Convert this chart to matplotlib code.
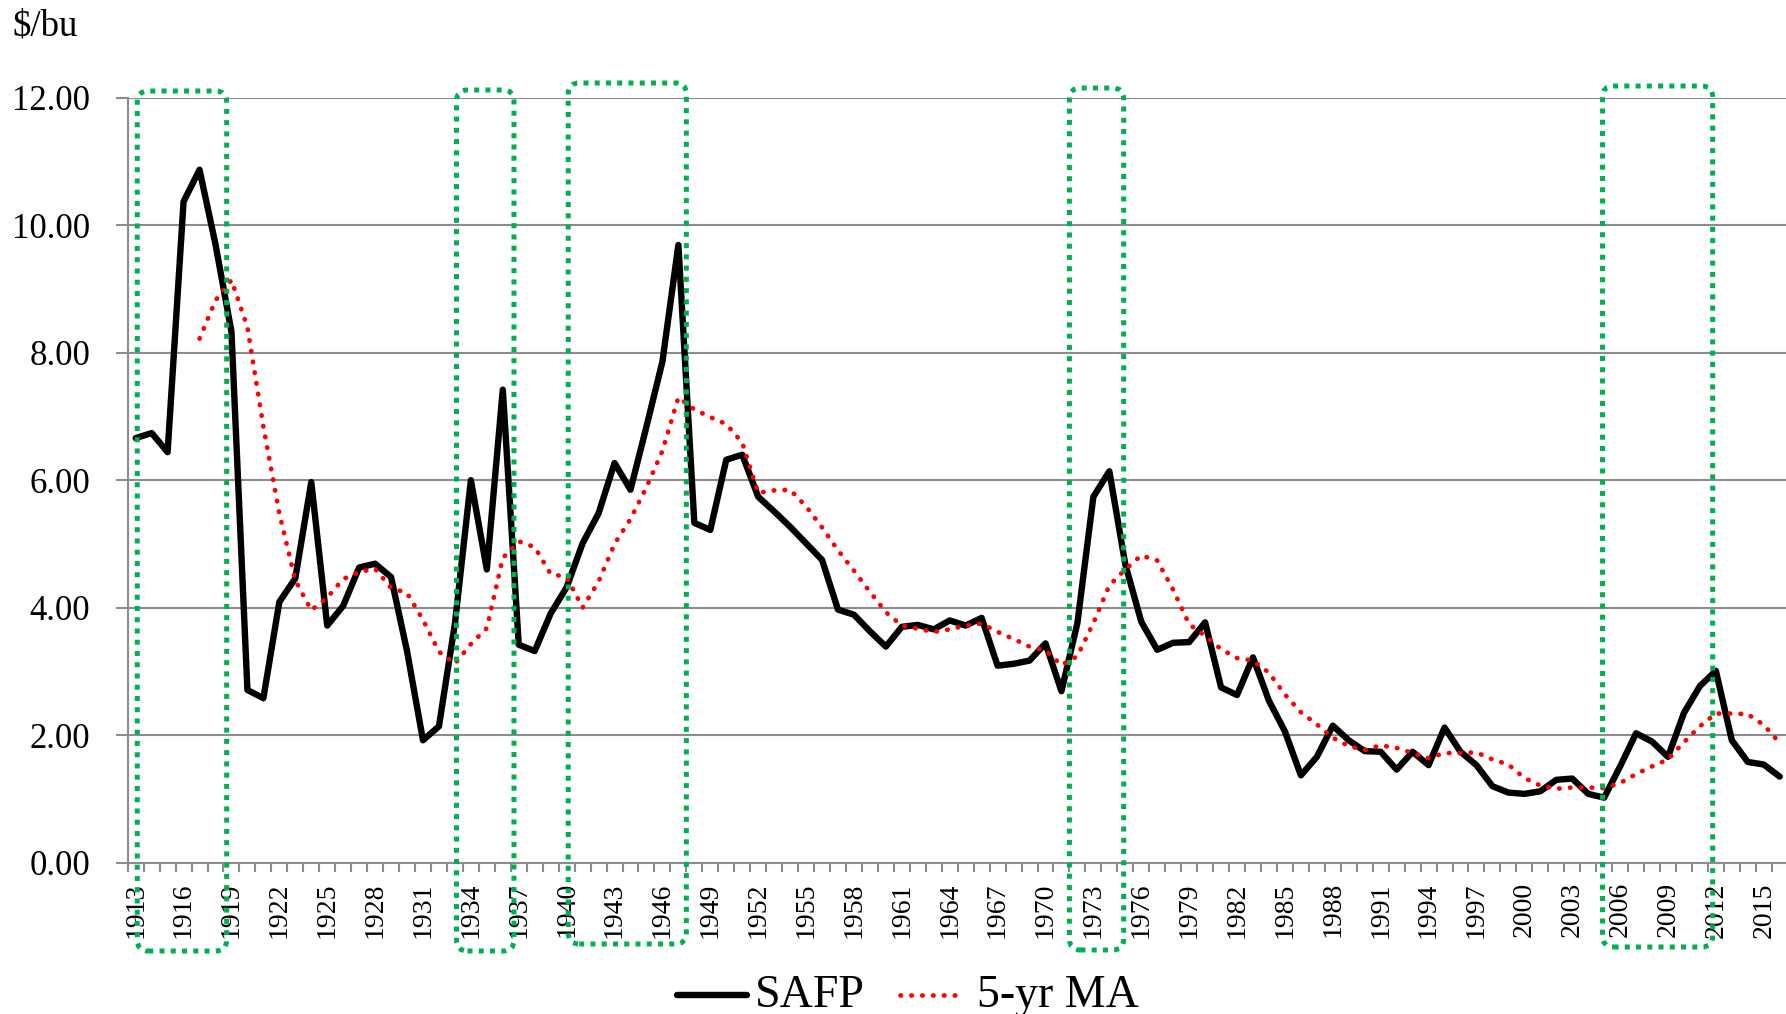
import numpy as np
import matplotlib
matplotlib.use("Agg")
import matplotlib.pyplot as plt
from matplotlib.patches import FancyBboxPatch
from matplotlib.lines import Line2D
from matplotlib.transforms import IdentityTransform

# ---------------- data ----------------
years = list(range(1913, 2017))
safp = [
    6.66, 6.74, 6.44, 10.37, 10.87, 9.70, 8.33, 2.71, 2.58, 4.09,   # 1913-1922
    4.46, 5.97, 3.72, 4.03, 4.63, 4.69, 4.48, 3.32, 1.92, 2.14,     # 1923-1932
    3.75, 6.00, 4.60, 7.42, 3.42, 3.32, 3.91, 4.32, 5.01, 5.48,     # 1933-1942
    6.27, 5.85, 6.84, 7.86, 9.69, 5.33, 5.22, 6.32, 6.40, 5.74,     # 1943-1952
    5.51, 5.27, 5.01, 4.75, 3.97, 3.89, 3.63, 3.39, 3.70, 3.73,     # 1953-1962
    3.66, 3.80, 3.72, 3.84, 3.09, 3.12, 3.17, 3.44, 2.69, 3.76,     # 1963-1972
    5.74, 6.14, 4.68, 3.78, 3.34, 3.45, 3.46, 3.77, 2.75, 2.63,     # 1973-1982
    3.22, 2.54, 2.06, 1.37, 1.66, 2.15, 1.92, 1.75, 1.74, 1.46,     # 1983-1992
    1.74, 1.53, 2.12, 1.74, 1.53, 1.20, 1.10, 1.08, 1.12, 1.30,     # 1993-2002
    1.32, 1.08, 1.02, 1.51, 2.03, 1.90, 1.66, 2.35, 2.77, 3.01,     # 2003-2012
    1.92, 1.58, 1.54, 1.35,                                         # 2013-2016
]
ma_years = list(range(1917, 2017))
ma5 = [
    8.22, 8.82, 9.14, 8.40, 6.84, 5.48, 4.43, 3.96, 4.16, 4.45,     # 1917-1926
    4.56, 4.61, 4.31, 4.23, 3.81, 3.31, 3.12, 3.43, 3.68, 4.78,     # 1927-1936
    5.04, 4.95, 4.53, 4.48, 4.00, 4.41, 5.00, 5.39, 5.89, 6.46,     # 1937-1946
    7.30, 7.11, 6.99, 6.88, 6.59, 5.80, 5.84, 5.85, 5.59, 5.26,     # 1947-1956
    4.90, 4.58, 4.25, 3.93, 3.72, 3.67, 3.62, 3.66, 3.72, 3.75,     # 1957-1966
    3.62, 3.51, 3.39, 3.33, 3.10, 3.24, 3.76, 4.35, 4.60, 4.82,     # 1967-1976
    4.74, 4.28, 3.74, 3.56, 3.35, 3.21, 3.17, 2.98, 2.64, 2.36,     # 1977-1986
    2.17, 1.96, 1.83, 1.77, 1.84, 1.80, 1.72, 1.64, 1.72, 1.72,     # 1987-1996
    1.73, 1.62, 1.54, 1.33, 1.21, 1.16, 1.18, 1.18, 1.17, 1.25,     # 1997-2006
    1.39, 1.51, 1.62, 1.89, 2.14, 2.34, 2.34, 2.33, 2.16, 1.88,     # 2007-2016
]
label_years = list(range(1913, 2016, 3))
y_ticks = [0, 2, 4, 6, 8, 10, 12]
series_names = ["SAFP", "5-yr MA"]
unit_label = "$/bu"
# highlighted periods (in years along the category axis)
highlight_periods = [(1913.1, 1918.7), (1933.1, 1936.7), (1940.1, 1947.5),
                     (1971.5, 1974.9), (2004.9, 2011.8)]

# ---------------- style / layout ----------------
W, H = 1786, 1014
GRAY = "#8c8c8c"
GREEN = "#00B050"
box_tops = [91, 90, 83, 88, 86]        # pixels from top
box_bottoms = [951, 951, 944, 950, 947]

plt.rcParams['font.family'] = ['Liberation Serif', 'DejaVu Serif']

fig = plt.figure(figsize=(W / 100, H / 100), dpi=100)
left_px, right_px, top_px, bot_px = 127.7, 1787.7, 97.7, 862.7
ax = fig.add_axes([left_px / W, (H - bot_px) / H,
                   (right_px - left_px) / W, (bot_px - top_px) / H])

x0 = years[0]
xs = [y - x0 for y in years]
xs_ma = [y - x0 for y in ma_years]

ax.plot(xs, safp, color="black", lw=4.6, solid_joinstyle="round",
        solid_capstyle="round", zorder=3)
ax.plot(xs_ma, ma5, color="#FF0000", lw=3.4, linestyle=(0, (0.1, 2.2)),
        dash_capstyle="round", zorder=4)

ax.set_xlim(-0.5, len(years) - 0.5)
ax.set_ylim(0, 12)

# y axis
ax.set_yticks(y_ticks)
ax.set_yticklabels([f"{v:.2f}" for v in y_ticks])
ax.tick_params(axis="y", length=9, width=1.5, color=GRAY, pad=18,
               labelsize=25, direction="out")
ax.grid(axis="y", color=GRAY, lw=1.5)
ax.set_axisbelow(True)

# x axis: tick marks between categories, labels every 3 years
ax.set_xticks(np.arange(-0.5, len(years), 1.0))
ax.set_xticklabels([])
ax.set_xticks([y - x0 for y in label_years], minor=True)
ax.set_xticklabels([str(y) for y in label_years], minor=True, rotation=90)
ax.tick_params(axis="x", which="major", length=6.5, width=1.5, color=GRAY,
               direction="out")
ax.tick_params(axis="x", which="minor", length=0, pad=14, labelsize=20)

for s in ["top", "right"]:
    ax.spines[s].set_visible(False)
for s in ["left", "bottom"]:
    ax.spines[s].set_color(GRAY)
    ax.spines[s].set_linewidth(1.5)

# highlight boxes (dotted, rounded)
for (ya, yb), t, b in zip(highlight_periods, box_tops, box_bottoms):
    pa = ax.transData.transform((ya - x0, 0))[0]
    pb = ax.transData.transform((yb - x0, 0))[0]
    patch = FancyBboxPatch((pa, H - b), pb - pa, b - t,
                           boxstyle="round,pad=0,rounding_size=11",
                           transform=IdentityTransform(), fill=False,
                           edgecolor=GREEN, lw=3.6,
                           linestyle=(0, (1, 1.25)), capstyle="butt",
                           zorder=10)
    fig.add_artist(patch)

# unit label
fig.text(12 / W, (H - 36) / H, unit_label, fontsize=26.5, va="baseline",
         ha="left")

# legend (manual, bottom centre)
ly = 19 / H
fig.add_artist(Line2D([676.5 / W, 747 / W], [ly, ly], transform=fig.transFigure,
                      color="black", lw=4.6, solid_capstyle="round"))
fig.text(755 / W, 7.3 / H, series_names[0], fontsize=33, va="baseline",
         ha="left")
fig.add_artist(Line2D([900 / W, 962 / W], [ly, ly], transform=fig.transFigure,
                      color="#FF0000", lw=3.4, linestyle=(0, (0.1, 2.2)),
                      dash_capstyle="round"))
fig.text(977 / W, 7.3 / H, series_names[1], fontsize=33, va="baseline",
         ha="left")

fig.savefig("out.png", dpi=100)
